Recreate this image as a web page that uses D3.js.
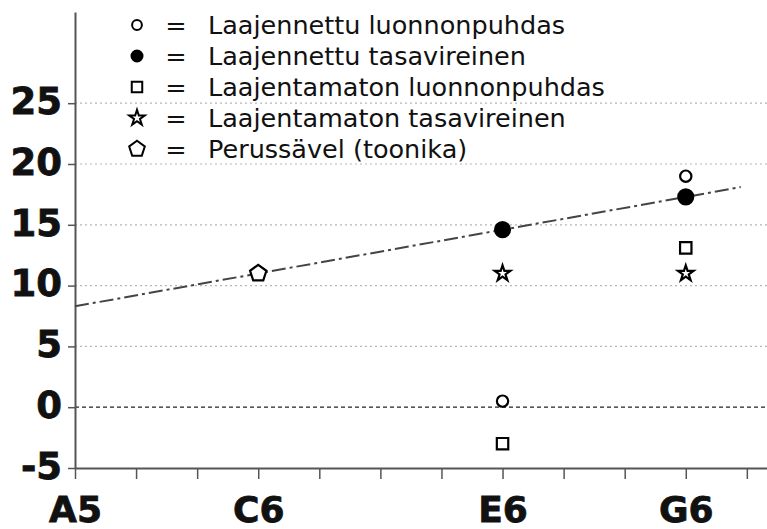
<!DOCTYPE html>
<html>
<head>
<meta charset="utf-8">
<script src="https://cdn.jsdelivr.net/npm/d3@7"></script>
<style>
  body { margin: 0; background: #fff; }
  svg { display: block; font-family: "DejaVu Sans", Verdana, sans-serif; }
</style>
</head>
<body>
<div id="chart"></div>
<script>
// x = semitones above A5
const noteNames = ["A5", "A#5", "B5", "C6", "C#6", "D6", "D#6", "E6", "F6", "F#6", "G6", "G#6"];
const labelledNotes = ["A5", "C6", "E6", "G6"];
const yTicks = [-5, 0, 5, 10, 15, 20, 25];

// series: [semitone, value]
const extPure = [[7, 0.5], [10, 19]];
const extTempered = [[7, 14.6], [10, 17.3]];
const unextPure = [[7, -3], [10, 13.1]];
const unextTempered = [[7, 11], [10, 11]];
const tonic = [[3, 11]];
const trend = [[0, 8.3], [10.9, 18.1]];

const legendLabels = [
  "Laajennettu luonnonpuhdas",
  "Laajennettu tasavireinen",
  "Laajentamaton luonnonpuhdas",
  "Laajentamaton tasavireinen",
  "Perussävel (toonika)",
];

const width = 767;
const height = 529;

// pentagon symbol (not in d3)
const symbolPentagon = {
  draw(context, size) {
    const r = Math.sqrt(size / 2.3776);
    for (let i = 0; i < 5; i++) {
      const a = -Math.PI / 2 + (i * 2 * Math.PI) / 5;
      const px = r * Math.cos(a), py = r * Math.sin(a);
      if (i === 0) context.moveTo(px, py);
      else context.lineTo(px, py);
    }
    context.closePath();
  },
};

const svg = d3
  .select("#chart")
  .append("svg")
  .attr("width", width)
  .attr("height", height);

const x = d3.scaleLinear().domain([0, 11.33]).range([75, 767]);
const y = d3.scaleLinear().domain([-5, 32.5]).range([468, 12]);

// dotted grid
svg
  .append("g")
  .selectAll("line")
  .data(yTicks.filter((d) => d > 0))
  .enter()
  .append("line")
  .attr("x1", x(0))
  .attr("x2", width)
  .attr("y1", (d) => y(d))
  .attr("y2", (d) => y(d))
  .attr("stroke", "#b5b5b5")
  .attr("stroke-width", 1.2)
  .attr("stroke-dasharray", "2,3");

// zero line
svg
  .append("line")
  .attr("x1", x(0))
  .attr("x2", width)
  .attr("y1", y(0))
  .attr("y2", y(0))
  .attr("stroke", "#222")
  .attr("stroke-width", 1.3)
  .attr("stroke-dasharray", "4,3");

// y axis
const yAxis = svg
  .append("g")
  .attr("transform", "translate(" + x(0) + ",0)")
  .call(
    d3
      .axisLeft(y)
      .tickValues(yTicks)
      .tickSize(7)
      .tickPadding(6)
      .tickSizeOuter(0)
      .tickFormat((d) => String(d))
  );
yAxis.select(".domain").attr("stroke", "#555").attr("stroke-width", 2);
yAxis.selectAll(".tick line").attr("stroke", "#555").attr("stroke-width", 1.5);
yAxis
  .selectAll(".tick text")
  .attr("font-size", 37)
  .attr("font-weight", "bold")
  .attr("font-family", "DejaVu Sans")
  .attr("fill", "#111")
  .attr("stroke", "#111")
  .attr("stroke-width", 0.8)
  .attr("dy", "0.28em");

// x axis
const xAxis = svg
  .append("g")
  .attr("transform", "translate(0," + y(-5) + ")")
  .call(
    d3
      .axisBottom(x)
      .tickValues(d3.range(noteNames.length))
      .tickSize(11)
      .tickSizeOuter(0)
      .tickFormat((i) => (labelledNotes.includes(noteNames[i]) ? noteNames[i] : ""))
  );
xAxis.select(".domain").attr("stroke", "#555").attr("stroke-width", 2);
xAxis.selectAll(".tick line").attr("stroke", "#555").attr("stroke-width", 1.5);
xAxis
  .selectAll(".tick text")
  .attr("font-size", 36)
  .attr("font-weight", "bold")
  .attr("font-family", "DejaVu Sans")
  .attr("fill", "#111")
  .attr("stroke", "#111")
  .attr("stroke-width", 0.8)
  .attr("y", 54)
  .attr("dy", 0);

// dash-dot trend line
svg
  .append("path")
  .datum(trend)
  .attr("fill", "none")
  .attr("stroke", "#444")
  .attr("stroke-width", 2)
  .attr("stroke-dasharray", "14,4,3,4")
  .attr("d", d3.line().x((d) => x(d[0])).y((d) => y(d[1])));

const series = [
  { data: extPure, type: d3.symbolCircle, size: 100, fill: "#fff" },
  { data: extTempered, type: d3.symbolCircle, size: 175, fill: "#000" },
  { data: unextPure, type: d3.symbolSquare, size: 130, fill: "#fff" },
  { data: unextTempered, type: d3.symbolStar, size: 75, fill: "#fff" },
  { data: tonic, type: symbolPentagon, size: 175, fill: "#fff" },
];

series.forEach((s) => {
  svg
    .append("g")
    .selectAll("path")
    .data(s.data)
    .enter()
    .append("path")
    .attr("transform", (d) => "translate(" + x(d[0]) + "," + y(d[1]) + ")")
    .attr("d", d3.symbol().type(s.type).size(s.size))
    .attr("fill", s.fill)
    .attr("stroke", "#000")
    .attr("stroke-width", 2.2);
});

// legend
const legendSizes = [75, 95, 110, 75, 160];
const legend = svg
  .append("g")
  .selectAll("g")
  .data(legendLabels)
  .enter()
  .append("g")
  .attr("transform", (d, i) => "translate(0," + (25 + i * 31) + ")");

legend
  .append("path")
  .attr("transform", "translate(137,0)")
  .attr("d", (d, i) => d3.symbol().type(series[i].type).size(legendSizes[i])())
  .attr("fill", (d, i) => series[i].fill)
  .attr("stroke", "#000")
  .attr("stroke-width", 2);

legend
  .append("text")
  .attr("x", 176)
  .attr("y", 9)
  .attr("text-anchor", "middle")
  .attr("font-size", 25.5)
  .attr("fill", "#111")
  .text("=");

legend
  .append("text")
  .attr("x", 208)
  .attr("y", 9)
  .attr("font-size", 25.5)
  .attr("fill", "#111")
  .text((d) => d);
</script>
</body>
</html>
